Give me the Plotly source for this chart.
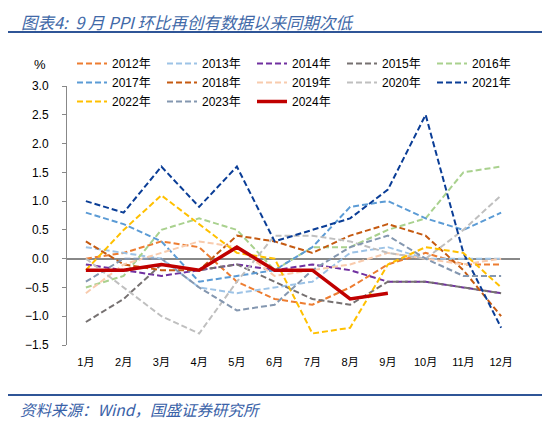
import plotly.graph_objects as go

# months on the x axis
months = ["1月", "2月", "3月", "4月", "5月", "6月", "7月", "8月", "9月", "10月", "11月", "12月"]

# PPI month-on-month (%), one list per year
ppi_2012 = [0.0, 0.1, 0.3, 0.2, -0.4, -0.7, -0.8, -0.5, -0.1, 0.1, -0.1, -0.1]
ppi_2013 = [0.2, 0.1, 0.0, -0.5, -0.6, -0.5, -0.4, 0.1, 0.2, 0.0, 0.0, 0.0]
ppi_2014 = [-0.1, -0.2, -0.3, -0.2, -0.1, -0.2, -0.1, -0.2, -0.4, -0.4, -0.5, -0.6]
ppi_2015 = [-1.1, -0.7, -0.1, -0.2, -0.1, -0.4, -0.7, -0.8, -0.4, -0.4, -0.5, -0.6]
ppi_2016 = [-0.5, -0.3, 0.5, 0.7, 0.5, -0.2, 0.2, 0.2, 0.5, 0.7, 1.5, 1.6]
ppi_2017 = [0.8, 0.6, 0.3, -0.4, -0.3, -0.2, 0.2, 0.9, 1.0, 0.7, 0.5, 0.8]
ppi_2018 = [0.3, -0.1, -0.2, -0.2, 0.4, 0.3, 0.1, 0.4, 0.6, 0.4, -0.2, -1.0]
ppi_2019 = [-0.6, -0.1, 0.1, 0.3, 0.2, -0.3, -0.2, -0.1, 0.1, 0.0, -0.1, 0.0]
ppi_2020 = [0.0, -0.5, -1.0, -1.3, -0.4, 0.4, 0.4, 0.3, 0.1, 0.0, 0.5, 1.1]
ppi_2021 = [1.0, 0.8, 1.6, 0.9, 1.6, 0.3, 0.5, 0.7, 1.2, 2.5, 0.1, -1.2]
ppi_2022 = [-0.2, 0.5, 1.1, 0.6, 0.1, 0.0, -1.3, -1.2, -0.1, 0.2, 0.1, -0.5]
ppi_2023 = [-0.4, 0.0, 0.0, -0.5, -0.9, -0.8, -0.2, 0.2, 0.4, 0.0, -0.3, -0.3]
ppi_2024 = [-0.2, -0.2, -0.1, -0.2, 0.2, -0.2, -0.2, -0.7, -0.6]

series = [
    ("2012年", ppi_2012, "#ED7D31"),
    ("2013年", ppi_2013, "#9DC3E6"),
    ("2014年", ppi_2014, "#7030A0"),
    ("2015年", ppi_2015, "#767171"),
    ("2016年", ppi_2016, "#A9D18E"),
    ("2017年", ppi_2017, "#5B9BD5"),
    ("2018年", ppi_2018, "#C55A11"),
    ("2019年", ppi_2019, "#F8CBAD"),
    ("2020年", ppi_2020, "#BFBFBF"),
    ("2021年", ppi_2021, "#0A3D96"),
    ("2022年", ppi_2022, "#FFC000"),
    ("2023年", ppi_2023, "#8497B0"),
]

font_main = "Liberation Sans, Noto Sans CJK SC, sans-serif"
blue = "#2F5597"

fig = go.Figure()

for name, vals, color in series:
    fig.add_trace(go.Scatter(
        x=months[:len(vals)], y=vals, name=name, mode="lines",
        line=dict(color=color, width=2, dash="6px,3px"),
    ))

# 2024 is the highlighted solid line
fig.add_trace(go.Scatter(
    x=months[:len(ppi_2024)], y=ppi_2024, name="2024年", mode="lines",
    line=dict(color="#C00000", width=3.5),
))

# the page body has an 8px margin, so the figure sits 8px in from the corner
OFF = 8
W, H = 550, 425
# plot area in page pixels: left 67, right 520, top 86, bottom 345
L, T = 67 - OFF, 86 - OFF
R, B = W - (520 - OFF), H - (345 - OFF)
PW, PH = W - L - R, H - T - B


def px_x(p):
    return (p - OFF - L) / PW


def px_y(p):
    return (H - B - (p - OFF)) / PH


fig.update_layout(
    width=W, height=H,
    margin=dict(l=L, r=R, t=T, b=B, autoexpand=False),
    paper_bgcolor="white", plot_bgcolor="white",
    font=dict(family=font_main, size=12, color="black"),
    showlegend=True,
    legend=dict(
        orientation="h", traceorder="normal",
        x=px_x(72), y=px_y(49), xanchor="left", yanchor="top",
        entrywidth=45, font=dict(size=12),
        bgcolor="rgba(0,0,0,0)", itemwidth=30,
    ),
    xaxis=dict(
        type="category", range=[-0.5, 11.5],
        showline=False, showgrid=False, ticks="",
        tickfont=dict(size=11), ticklabelstandoff=9,
    ),
    yaxis=dict(
        range=[-1.5, 3.0], dtick=0.5, tickformat=".1f",
        showgrid=False, showline=True, linecolor="#888888", linewidth=1,
        ticks="outside", ticklen=4, tickcolor="#888888",
        zeroline=True, zerolinecolor="#888888", zerolinewidth=1.5,
        tickfont=dict(size=12), ticklabelstandoff=11,
    ),
    shapes=[
        dict(type="line", xref="paper", yref="paper",
             x0=px_x(6), x1=px_x(548), y0=px_y(32), y1=px_y(32),
             line=dict(color=blue, width=2)),
        dict(type="line", xref="paper", yref="paper",
             x0=px_x(6), x1=px_x(548), y0=px_y(395), y1=px_y(395),
             line=dict(color=blue, width=2)),
    ],
    annotations=[
        dict(text="<i>图表4:  9 月 PPI 环比再创有数据以来同期次低</i>",
             xref="paper", yref="paper", x=px_x(19), y=px_y(8),
             xanchor="left", yanchor="top", showarrow=False,
             font=dict(size=16.5, color="#4169A8", family="Noto Sans CJK SC")),
        dict(text="<i>资料来源：Wind，国盛证券研究所</i>",
             xref="paper", yref="paper", x=px_x(18), y=px_y(409),
             xanchor="left", yanchor="middle", showarrow=False,
             font=dict(size=15.5, color="#3A62A8", family="Noto Sans CJK SC")),
        dict(text="%", xref="paper", yref="paper", x=px_x(40), y=px_y(65),
             xanchor="center", yanchor="middle", showarrow=False,
             font=dict(size=13, color="black")),
    ],
)

fig.write_html("out.html")
